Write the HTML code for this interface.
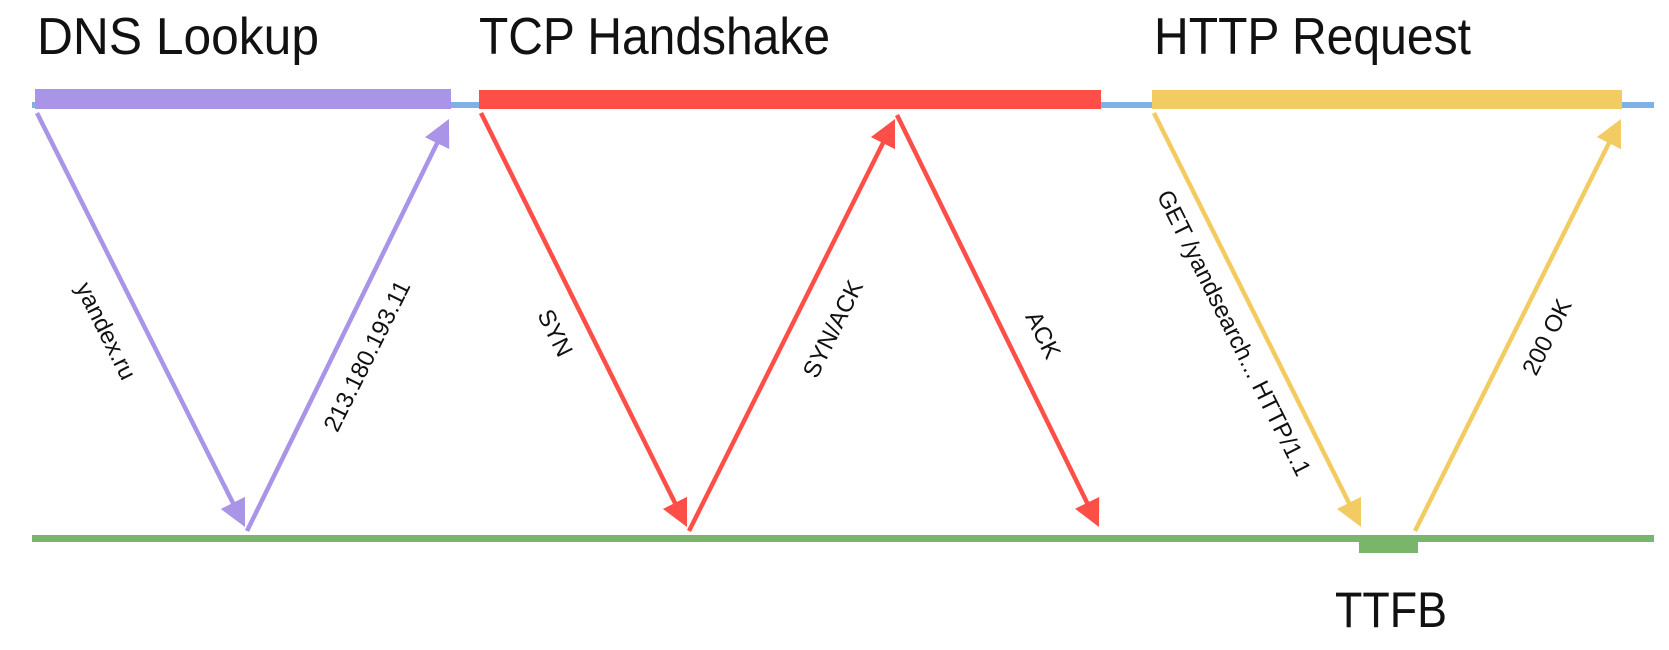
<!DOCTYPE html>
<html><head><meta charset="utf-8"><style>
html,body{margin:0;padding:0;background:#fff;}
svg{display:block;}
text{font-family:"Liberation Sans",sans-serif;fill:#111;}
</style></head><body>
<svg width="1669" height="650" viewBox="0 0 1669 650" xmlns="http://www.w3.org/2000/svg">
<defs>
<marker id="mp" markerWidth="6" markerHeight="6" refX="5" refY="3" orient="auto" markerUnits="strokeWidth"><path d="M0,0 L6,3 L0,6 z" fill="#a994e8"/></marker>
<marker id="mr" markerWidth="6" markerHeight="6" refX="5" refY="3" orient="auto" markerUnits="strokeWidth"><path d="M0,0 L6,3 L0,6 z" fill="#fd4f48"/></marker>
<marker id="my" markerWidth="6" markerHeight="6" refX="5" refY="3" orient="auto" markerUnits="strokeWidth"><path d="M0,0 L6,3 L0,6 z" fill="#f2cb62"/></marker>
</defs>
<rect x="32" y="102" width="1622" height="6" fill="#7fb0e6"/>
<rect x="35" y="89" width="416" height="20" fill="#a994e8"/>
<rect x="479" y="90" width="622" height="19" fill="#fd4f48"/>
<rect x="1152" y="90" width="470" height="19" fill="#f2cb62"/>
<rect x="32" y="535" width="1622" height="7" fill="#79b66c"/>
<rect x="1359" y="535" width="59" height="18" fill="#79b66c"/>
<g stroke-width="4.5" fill="none">
<line x1="37" y1="113" x2="243" y2="523" stroke="#a994e8" marker-end="url(#mp)"/>
<line x1="247" y1="531" x2="447" y2="123" stroke="#a994e8" marker-end="url(#mp)"/>
<line x1="481" y1="113" x2="685" y2="523" stroke="#fd4f48" marker-end="url(#mr)"/>
<line x1="689" y1="531" x2="893" y2="123" stroke="#fd4f48" marker-end="url(#mr)"/>
<line x1="897" y1="115" x2="1097" y2="523" stroke="#fd4f48" marker-end="url(#mr)"/>
<line x1="1154" y1="113" x2="1359" y2="523" stroke="#f2cb62" marker-end="url(#my)"/>
<line x1="1415" y1="531" x2="1619" y2="123" stroke="#f2cb62" marker-end="url(#my)"/>
</g>
<text x="37" y="54" font-size="52" textLength="282" lengthAdjust="spacingAndGlyphs">DNS Lookup</text>
<text x="479" y="54" font-size="52" textLength="351" lengthAdjust="spacingAndGlyphs">TCP Handshake</text>
<text x="1154" y="54" font-size="52" textLength="317" lengthAdjust="spacingAndGlyphs">HTTP Request</text>
<text x="1335" y="627" font-size="50" textLength="112" lengthAdjust="spacingAndGlyphs">TTFB</text>
<g font-size="24" text-anchor="middle">
<text transform="translate(106,331) rotate(63.5)" dy="8">yandex.ru</text>
<text transform="translate(367,356) rotate(-63.5)" dy="8">213.180.193.11</text>
<text transform="translate(555,333) rotate(63.5)" dy="8">SYN</text>
<text transform="translate(833,329) rotate(-63.5)" dy="8">SYN/ACK</text>
<text transform="translate(1043,335) rotate(63.5)" dy="8">ACK</text>
<text transform="translate(1234,333) rotate(63.5)" dy="8">GET /yandsearch... HTTP/1.1</text>
<text transform="translate(1547,337) rotate(-63.5)" dy="8">200 OK</text>
</g>
</svg>
</body></html>
